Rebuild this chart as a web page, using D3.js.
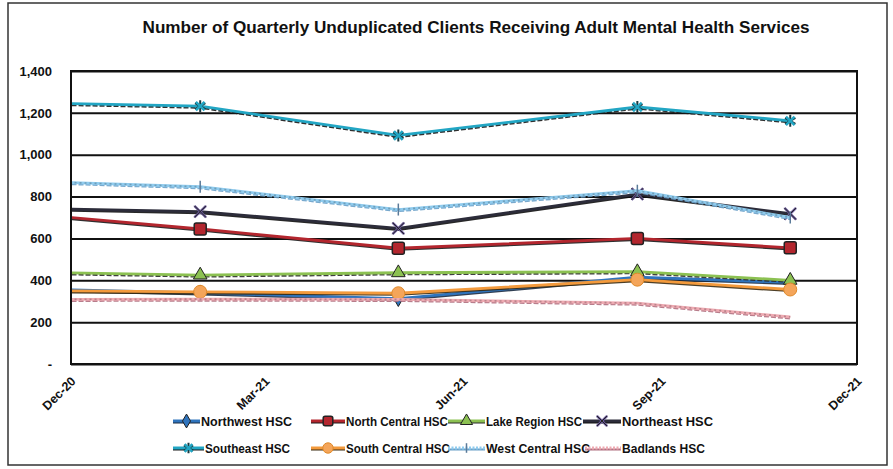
<!DOCTYPE html>
<html><head><meta charset="utf-8">
<script src="https://cdn.jsdelivr.net/npm/d3@7"></script>
<style>body{margin:0;background:#fff}svg{display:block}</style></head>
<body><svg id="c" width="893" height="469"></svg>
<script>
const dates = ["2020-11-28","2021-01-30","2021-05-02","2021-08-21","2021-10-31"];
const tickDates = ["2020-12-01","2021-03-01","2021-06-01","2021-09-01","2021-12-01"];
const yTicks = [0,200,400,600,800,1000,1200,1400];
const seriesNames = ["Northwest HSC","North Central HSC","Lake Region HSC","Northeast HSC","Southeast HSC","South Central HSC","West Central HSC","Badlands HSC"];
const northwest    = [355, 340, 312, 415, 390];
const northCentral = [703, 645, 553, 600, 555];
const lakeRegion   = [436, 425, 436, 441, 400];
const northeast    = [740, 728, 648, 812, 718];
const southeast    = [1245, 1232, 1092, 1228, 1162];
const southCentral = [350, 345, 338, 403, 356];
const westCentral  = [868, 847, 738, 828, 700];
const badlands     = [309, 310, 309, 291, 225];
const title = "Number of Quarterly Unduplicated Clients Receiving Adult Mental Health Services";

const values = [northwest, northCentral, lakeRegion, northeast, southeast, southCentral, westCentral, badlands];
const styles = [
  {color:"#2f74bd", shadow:"#1a2a40", marker:"diamond", mfill:"#2f74bd", dash:null},
  {color:"#b3262e", shadow:"#1a1a1a", marker:"square", mfill:"#b3262e", dash:null},
  {color:"#8cc152", shadow:"#2a2a2a", marker:"triangle", mfill:"#8cc152", dash:"5,3"},
  {color:"#2c2c3a", shadow:"#111", marker:"x", mfill:"#6a5a9a", dash:null},
  {color:"#22a6c4", shadow:"#1a1a1a", marker:"star", mfill:"#22a6c4", dash:"6,3"},
  {color:"#f39a3c", shadow:"#3a2a10", marker:"circle", mfill:"#f4a55a", dash:null},
  {color:"#8fcbee", shadow:"#6aa0c8", marker:"bar", mfill:"#5a7a99", dash:"2,3"},
  {color:"#eeaab2", shadow:"#b07080", marker:"none", mfill:"#eeaab2", dash:"2,3"}
];

const svg = d3.select("#c");
const L = 71, R = 857, T = 71, B = 364;
const parse = d3.utcParse("%Y-%m-%d");
const x = d3.scaleUtc().domain([parse(tickDates[0]), parse(tickDates[tickDates.length-1])]).range([L, R]);
const y = d3.scaleLinear().domain([0, 1400]).range([B, T]);
const FONT = "Liberation Sans, Arial, sans-serif";

svg.append("rect").attr("x",8).attr("y",3).attr("width",879).attr("height",462)
  .attr("fill","#fff").attr("stroke","#333").attr("stroke-width",1.5);

svg.append("text").attr("x",476).attr("y",33).attr("text-anchor","middle")
  .attr("font-family",FONT).attr("font-weight","bold")
  .attr("font-size",16.5).attr("textLength",667).attr("lengthAdjust","spacingAndGlyphs")
  .attr("fill","#111").text(title);

const gy = d3.axisLeft(y).tickValues(yTicks).tickSize(-(R-L)).tickFormat(d => d === 0 ? "-" : d3.format(",")(d));
const gAxis = svg.append("g").attr("transform",`translate(${L},0)`).call(gy);
gAxis.select(".domain").remove();
gAxis.selectAll("line").attr("stroke","#111").attr("stroke-width",2);
gAxis.selectAll("text").attr("x",-19).attr("font-family",FONT)
  .attr("font-weight","bold").attr("font-size",13).attr("fill","#111");

svg.append("rect").attr("x",L).attr("y",T).attr("width",R-L).attr("height",B-T)
  .attr("fill","none").attr("stroke","#111").attr("stroke-width",2);

const gx = d3.axisBottom(x).tickValues(tickDates.map(parse)).tickSize(0).tickFormat(d3.utcFormat("%b-%y"));
const xAxis = svg.append("g").attr("transform",`translate(0,${B})`).call(gx);
xAxis.select(".domain").remove();
xAxis.selectAll("text").attr("text-anchor","end").attr("dy",0).attr("y",0)
  .attr("transform","translate(5,18) rotate(-45)")
  .attr("font-family",FONT)
  .attr("font-weight","bold").attr("font-size",12.5).attr("fill","#111");

svg.append("clipPath").attr("id","clip").append("rect").attr("x",L+1).attr("y",T).attr("width",R-L).attr("height",B-T);
const plot = svg.append("g").attr("clip-path","url(#clip)");

const line = d3.line().x(d => x(d.date)).y(d => y(d.v));

function drawMarker(g, type, cx, cy, st, s) {
  s = s || 1;
  const stroke = "#222";
  if (type === "diamond") {
    g.append("path").attr("d", d3.symbol(d3.symbolDiamond, 70*s)()).attr("transform",`translate(${cx},${cy})`)
      .attr("fill", st.mfill).attr("stroke", stroke).attr("stroke-width",1);
  } else if (type === "square") {
    g.append("rect").attr("x",cx-6*s).attr("y",cy-6*s).attr("width",12*s).attr("height",12*s).attr("rx",2)
      .attr("fill", st.mfill).attr("stroke", stroke).attr("stroke-width",1.5);
  } else if (type === "triangle") {
    g.append("path").attr("d", d3.symbol(d3.symbolTriangle, 80*s)()).attr("transform",`translate(${cx},${cy})`)
      .attr("fill", st.mfill).attr("stroke", stroke).attr("stroke-width",1);
  } else if (type === "x") {
    g.append("path").attr("d", d3.symbol(d3.symbolX, 90*s)()).attr("transform",`translate(${cx},${cy})`)
      .attr("fill","none").attr("stroke", st.mfill).attr("stroke-width",2.5);
    g.append("path").attr("d", d3.symbol(d3.symbolX, 90*s)()).attr("transform",`translate(${cx},${cy})`)
      .attr("fill","none").attr("stroke", "#222").attr("stroke-width",1);
  } else if (type === "star") {
    g.append("path").attr("d", d3.symbol(d3.symbolAsterisk, 100*s)()).attr("transform",`translate(${cx},${cy})`)
      .attr("fill","none").attr("stroke", "#1a3a40").attr("stroke-width",2);
    g.append("path").attr("d", d3.symbol(d3.symbolX, 50*s)()).attr("transform",`translate(${cx},${cy})`)
      .attr("fill","none").attr("stroke", st.mfill).attr("stroke-width",2.5);
  } else if (type === "circle") {
    g.append("circle").attr("cx",cx).attr("cy",cy).attr("r",6.5*s)
      .attr("fill", st.mfill).attr("stroke", "#e08a2a").attr("stroke-width",1);
  } else if (type === "bar") {
    g.append("line").attr("x1",cx).attr("x2",cx).attr("y1",cy-6*s).attr("y2",cy+6*s)
      .attr("stroke", st.mfill).attr("stroke-width",1.5);
  }
}

values.forEach((vals, i) => {
  const st = styles[i];
  const data = vals.map((v, j) => ({date: parse(dates[j]), v}));
  const g = plot.append("g");
  g.append("path").datum(data).attr("d", line).attr("fill","none")
    .attr("stroke", st.shadow).attr("stroke-width", 2).attr("transform","translate(0,1.6)")
    .attr("stroke-dasharray", st.dash ? "5,2" : null).attr("opacity",0.9);
  g.append("path").datum(data).attr("d", line).attr("fill","none")
    .attr("stroke", st.color).attr("stroke-width", 2.8);
  if (st.dash && i >= 6) {
    g.append("path").datum(data).attr("d", line).attr("fill","none")
      .attr("stroke", d3.color(st.color).darker(0.7)).attr("stroke-width", 1.6).attr("stroke-dasharray", st.dash);
  }
  data.forEach(d => drawMarker(g, st.marker, x(d.date), y(d.v), st));
});

// legend: [symbol start, symbol end, text end, row centre]
const legendPos = [
  [173,200,292,421],[311,345,448,421],[448,485,582,421],[583,621,713,421],
  [173,204,290,448],[311,345,450,448],[448,485,590,448],[585,621,705,448]
];
seriesNames.forEach((name, i) => {
  const st = styles[i];
  const [s0, s1, t1, cy] = legendPos[i];
  const g = svg.append("g");
  g.append("line").attr("x1",s0).attr("x2",s1).attr("y1",cy+1.5).attr("y2",cy+1.5)
    .attr("stroke", st.shadow).attr("stroke-width",2);
  g.append("line").attr("x1",s0).attr("x2",s1).attr("y1",cy).attr("y2",cy)
    .attr("stroke", st.color).attr("stroke-width",3).attr("stroke-dasharray", i>=6 ? "2,1.5" : null);
  drawMarker(g, st.marker, (s0+s1)/2, cy, st, 0.8);
  g.append("text").attr("x",s1+1).attr("y",cy+5)
    .attr("font-family",FONT).attr("font-weight","bold").attr("font-size",13)
    .attr("textLength", t1 - s1 - 1).attr("lengthAdjust","spacingAndGlyphs")
    .attr("fill","#111").text(name);
});
</script></body></html>
